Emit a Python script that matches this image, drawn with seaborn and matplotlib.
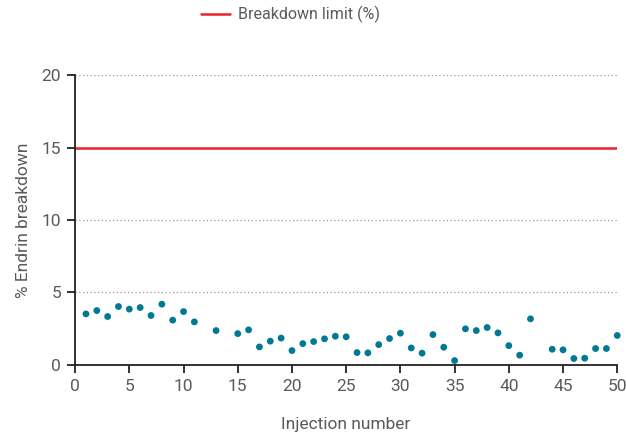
import matplotlib
matplotlib.use("Agg")
import matplotlib.pyplot as plt
import seaborn as sns
import pandas as pd

# injection numbers (12, 14 and 43 are not shown in the reference)
injection = [1, 2, 3, 4, 5, 6, 7, 8, 9, 10, 11, 13, 15, 16, 17, 18, 19, 20,
             21, 22, 23, 24, 25, 26, 27, 28, 29, 30, 31, 32, 33, 34, 35, 36,
             37, 38, 39, 40, 41, 42, 44, 45, 46, 47, 48, 49, 50]
breakdown = [3.52, 3.75, 3.34, 4.03, 3.85, 3.96, 3.41, 4.19, 3.09, 3.68, 2.97,
             2.37, 2.16, 2.42, 1.24, 1.64, 1.85, 0.99, 1.47, 1.61, 1.80, 1.98,
             1.94, 0.85, 0.83, 1.40, 1.82, 2.19, 1.17, 0.81, 2.09, 1.22, 0.30,
             2.49, 2.37, 2.58, 2.21, 1.33, 0.67, 3.18, 1.08, 1.04, 0.44, 0.46,
             1.13, 1.13, 2.03]
limit = 15
limit_label = "Breakdown limit (%)"

df = pd.DataFrame({"Injection number": injection, "% Endrin breakdown": breakdown})

sns.set_style("white")
plt.rcParams["font.family"] = ["Roboto", "DejaVu Sans"]
text_col = "#5a5a5a"

fig = plt.figure(figsize=(6.26, 4.37), dpi=100)
ax = fig.add_axes([0.12, 0.165, 0.866, 0.663])

for yv in [5, 10, 20]:
    ax.axhline(yv, color="#999999", linestyle=(0, (1, 2)), linewidth=0.9, zorder=1)

ax.axhline(limit, color="#e8232b", linewidth=1.8, zorder=2, label=limit_label)

sns.scatterplot(data=df, x="Injection number", y="% Endrin breakdown", ax=ax,
                color="#007a92", s=24, edgecolor="none", zorder=3, clip_on=False,
                legend=False)

ax.set_xlim(0, 50)
ax.set_ylim(0, 20)
ax.set_xticks(range(0, 51, 5))
ax.set_yticks(range(0, 21, 5))

for side in ["top", "right"]:
    ax.spines[side].set_visible(False)
for side in ["left", "bottom"]:
    ax.spines[side].set_color("#222222")
    ax.spines[side].set_linewidth(1.3)

ax.tick_params(axis="both", direction="out", length=6, width=1.3, color="#222222",
               bottom=True, left=True, labelsize=12.5, labelcolor=text_col, pad=4)

ax.set_xlabel("Injection number", fontsize=12.5, color=text_col, labelpad=17)
ax.set_ylabel("% Endrin breakdown", fontsize=12.5, color=text_col, labelpad=8)

leg = ax.legend(loc="lower center", bbox_to_anchor=(0.397, 1.13), frameon=False,
                fontsize=11.5, handlelength=1.8, handletextpad=0.5)
for t in leg.get_texts():
    t.set_color(text_col)

fig.savefig("out.png", dpi=100)
